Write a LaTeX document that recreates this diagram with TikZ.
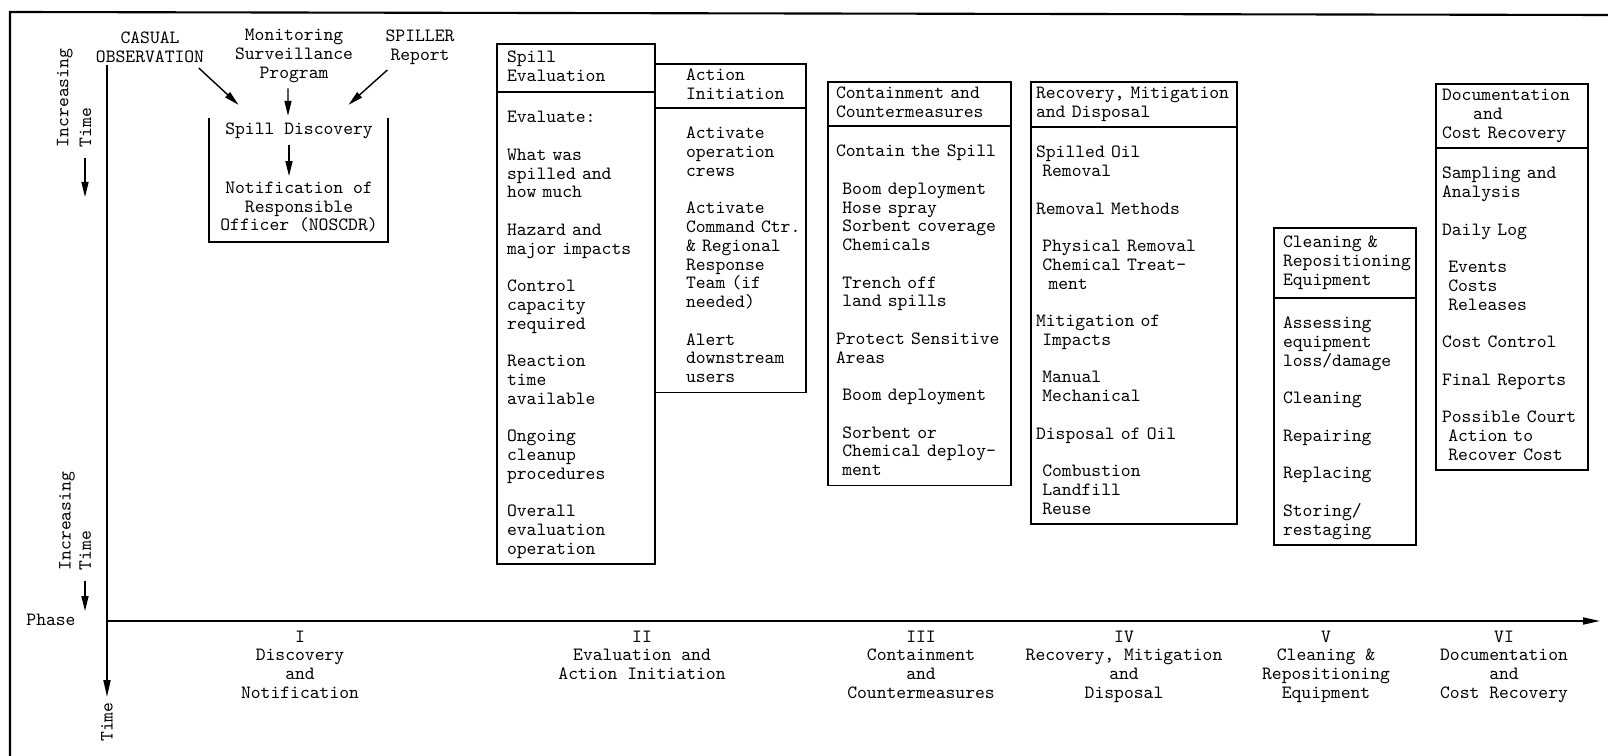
\documentclass[tikz,border=0pt]{standalone}
\usepackage{fontspec}
\usepackage{tikz}
\usetikzlibrary{arrows.meta, positioning}

\newcommand{\gapline}{\\[\baselineskip]}

\begin{document}
\begin{tikzpicture}[
        x=0.02cm, y=-0.02cm,
        font=\ttfamily\fontsize{10.66pt}{10.67pt}\selectfont,
        line width=0.8pt,
        heading/.style={rectangle, draw, anchor=north west, inner sep=0pt, outer sep=0pt, align=left, execute at begin node={\leftskip=#1\relax\strut}, execute at end node={\strut}},
        listing/.style={rectangle, draw, inner sep=0pt, outer sep=0pt, align=left, execute at begin node={\leftskip=#1\relax\rule{0pt}{0.62cm}}, execute at end node={\rule[-0.2cm]{0pt}{0pt}}},
        source/.style={align=center, inner sep=0.1cm},
        phaselabel/.style={align=center, anchor=north, inner sep=0pt, execute at begin node={\strut}},
        sidelabel/.style={rotate=90, align=left, inner sep=0.1cm},
        arrow/.style={-{Triangle[length=0.3cm, width=0.14cm]}},
        axis/.style={-{Triangle[length=0.34cm, width=0.14cm]}, line width=1pt}
    ]
    \useasboundingbox (0,0) rectangle (1608,756);

    % Frame
    \draw [line width=1.2pt] (10,756) -- (10,12) -- (1608,15);

    % Axes
    \coordinate (origin) at (107,621);
    \coordinate (time_top) at (107,65);
    \coordinate (time_end) at (107,697);
    \coordinate (phase_end) at (1600,621);
    \draw [axis] (time_top) -- (time_end);
    \draw [axis] (origin) -- (phase_end);

    \node (inc_upper) [sidelabel] at (74,98) {Increasing\\[0.08cm]Time};
    \node (inc_lower) [sidelabel] at (75,521) {Increasing\\[0.03cm]Time};
    \coordinate (inc_upper_tip) at (85,197);
    \coordinate (inc_lower_tip) at (85,611);
    \draw [arrow, shorten <=0.1cm] (inc_upper.west -| inc_upper_tip) -- (inc_upper_tip);
    \draw [arrow, shorten <=0.1cm] (inc_lower.west -| inc_lower_tip) -- (inc_lower_tip);
    \node (phase) at (51,620) {Phase};
    \node (time) [rotate=90] at (107,722) {Time};

    % Discovery
    \node (casual) [source] at (150,47) {CASUAL\\OBSERVATION};
    \node (monitor) [source] at (294,56) {Monitoring\\Surveillance\\Program};
    \node (spiller) [source] at (420,47) {SPILLER\\Report};
    \node (discovery) [source] at (299,131) {Spill Discovery};
    \node (notify) [source] at (299,207) {Notification of\\Responsible\\Officer (NOSCDR)};
    \draw (209,118) |- (388,242) -- (388,118);

    \draw [arrow] ([xshift=-0.22cm]casual.south east) -- ([xshift=0.38cm, yshift=0.25cm]discovery.north west);
    \draw [arrow] ([xshift=-0.12cm]monitor.south) -- ([xshift=-0.22cm, yshift=0.03cm]discovery.north);
    \draw [arrow] ([xshift=0.15cm]spiller.south west) -- ([xshift=-0.6cm, yshift=0.25cm]discovery.north east);
    \draw [arrow] ([xshift=-0.2cm]discovery.south) -- ([xshift=-0.2cm]notify.north);

    % Evaluation and Action Initiation
    \node (spill_eval) [heading=0.2cm, text width=3.16cm, minimum height=0.96cm] at (497,44) {Spill\\Evaluation};
    \node (eval_body) [listing=0.2cm, text width=3.16cm, below=0pt of spill_eval] {Evaluate:\gapline What was\\spilled and\\how much\gapline Hazard and\\major impacts\gapline Control\\capacity\\required\gapline Reaction\\time\\available\gapline Ongoing\\cleanup\\procedures\gapline Overall\\evaluation\\operation};
    \node (action_init) [heading=0.62cm, text width=3.02cm, minimum height=0.88cm] at (655,64) {Action\\Initiation};
    \node (action_body) [listing=0.62cm, text width=3.02cm, below=0pt of action_init] {Activate\\operation\\crews\gapline Activate\\Command Ctr.\\\& Regional\\Response\\Team (if\\needed)\gapline Alert\\downstream\\users};

    % Containment
    \node (containment) [heading=0.16cm, text width=3.66cm, minimum height=0.88cm] at (828,82) {Containment and\\Countermeasures};
    \node (containment_body) [listing=0.16cm, text width=3.66cm, below=0pt of containment] {Contain the Spill\gapline ~Boom deployment\\~Hose spray\\~Sorbent coverage\\~Chemicals\gapline ~Trench off\\~land spills\gapline Protect Sensitive\\Areas\gapline ~Boom deployment\gapline ~Sorbent or\\~Chemical deploy-\\~ment};

    % Recovery
    \node (recovery) [heading=0.1cm, text width=4.12cm, minimum height=0.9cm] at (1031,82) {Recovery, Mitigation\\and Disposal};
    \node (recovery_body) [listing=0.1cm, text width=4.12cm, below=0pt of recovery] {Spilled Oil\\~Removal\gapline Removal Methods\gapline ~Physical Removal\\~Chemical Treat-\\~~ment\gapline Mitigation of\\~Impacts\gapline ~Manual\\~Mechanical\gapline Disposal of Oil\gapline ~Combustion\\~Landfill\\~Reuse};

    % Cleaning
    \node (cleaning) [heading=0.18cm, text width=2.84cm, minimum height=1.4cm] at (1274,228) {Cleaning \&\\Repositioning\\Equipment};
    \node (cleaning_body) [listing=0.18cm, text width=2.84cm, below=0pt of cleaning] {Assessing\\equipment\\loss/damage\gapline Cleaning\gapline Repairing\gapline Replacing\gapline Storing/\\restaging};

    % Documentation
    \node (documentation) [heading=0.12cm, text width=3.04cm, minimum height=1.28cm] at (1436,84) {Documentation\\~~~~~and\\Cost Recovery};
    \node (documentation_body) [listing=0.12cm, text width=3.04cm, below=0pt of documentation] {Sampling and\\Analysis\gapline Daily Log\gapline ~Events\\~Costs\\~Releases\gapline Cost Control\gapline Final Reports\gapline Possible Court\\~Action to\\~Recover Cost};

    % Phase names
    \node (phase_i) [phaselabel] at (300,630) {I\\Discovery\\and\\Notification};
    \node (phase_ii) [phaselabel] at (642,630) {II\\Evaluation and\\Action Initiation};
    \node (phase_iii) [phaselabel] at (921,630) {III\\Containment\\and\\Countermeasures};
    \node (phase_iv) [phaselabel] at (1124,630) {IV\\Recovery, Mitigation\\and\\Disposal};
    \node (phase_v) [phaselabel] at (1326,630) {V\\Cleaning \&\\Repositioning\\Equipment};
    \node (phase_vi) [phaselabel] at (1504,630) {VI\\Documentation\\and\\Cost Recovery};

\end{tikzpicture}
\end{document}
